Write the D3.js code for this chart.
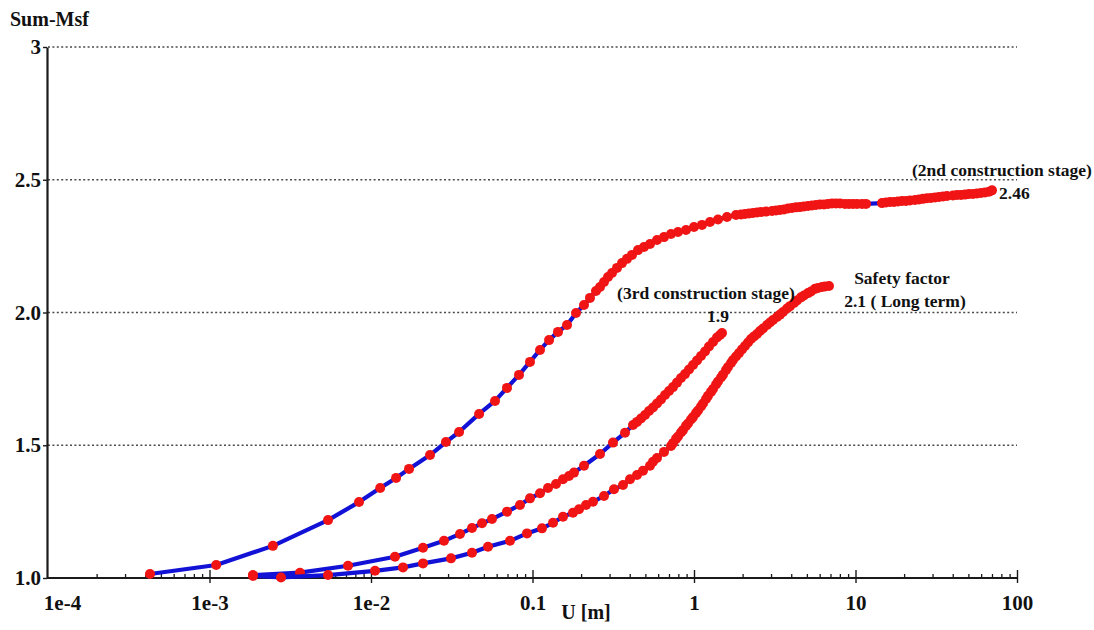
<!DOCTYPE html>
<html>
<head>
<meta charset="utf-8">
<script src="https://cdn.jsdelivr.net/npm/d3@7"></script>
<style>
  html, body { margin: 0; padding: 0; background: #ffffff; }
  svg { display: block; }
  text { font-family: "Liberation Serif", "Times New Roman", serif; font-weight: bold; fill: #111; }
</style>
</head>
<body>
<svg id="chart" width="1094" height="630"></svg>
<script>
// Axis ticks
const xTickValues = [1e-4, 1e-3, 1e-2, 0.1, 1, 10, 100];
const xTickLabels = ["1e-4", "1e-3", "1e-2", "0.1", "1", "10", "100"];
const yTickValues = [1.0, 1.5, 2.0, 2.5, 3];
const yTickLabels = ["1.0", "1.5", "2.0", "2.5", "3"];

// Sum-Msf against displacement U [m], one array per calculation phase
const stage2Points = [
  [4.28e-4,1.015],[1.10e-3,1.049],[2.47e-3,1.121],[5.42e-3,1.218],[8.43e-3,1.286],[1.14e-2,1.339],
  [1.43e-2,1.377],[1.72e-2,1.411],[2.32e-2,1.463],[2.91e-2,1.512],[3.51e-2,1.550],[4.67e-2,1.618],
  [5.86e-2,1.667],[6.95e-2,1.716],[8.25e-2,1.765],[9.65e-2,1.814],[0.1113,1.859],[0.1266,1.896],
  [0.1438,1.927],[0.1636,1.953],[0.186,1.998],[0.2084,2.028],[0.227,2.055],[0.2472,2.081],
  [0.2618,2.096],[0.2772,2.115],[0.2934,2.134],[0.3107,2.149],[0.3337,2.168],[0.3583,2.186],
  [0.3847,2.202],[0.4132,2.217],[0.4501,2.235],[0.4903,2.247],[0.5341,2.258],[0.590,2.273],
  [0.652,2.284],[0.7205,2.296],[0.796,2.303],[0.892,2.311],[1.000,2.322],[1.121,2.330],
  [1.256,2.341],[1.408,2.350],[1.601,2.360],[1.820,2.367],[1.955,2.369],[2.069,2.371],
  [2.191,2.373],[2.320,2.375],[2.456,2.377],[2.599,2.379],[2.791,2.380],[3.041,2.382],
  [3.219,2.384],[3.408,2.386],[3.608,2.388],[3.820,2.392],[4.045,2.394],[4.282,2.396],
  [4.533,2.397],[4.799,2.399],[5.081,2.401],[5.379,2.403],[5.694,2.405],[6.029,2.407],
  [6.382,2.407],[6.757,2.409],[7.154,2.411],[7.573,2.411],[8.018,2.411],[8.610,2.409],
  [9.115,2.409],[9.651,2.409],[10.22,2.409],[10.97,2.409],[11.62,2.409],[14.59,2.412],
  [15.45,2.414],[16.36,2.416],[17.32,2.416],[18.33,2.418],[19.41,2.420],[20.55,2.420],
  [21.76,2.422],[23.36,2.424],[24.73,2.426],[26.18,2.428],[27.72,2.430],[29.35,2.431],
  [31.07,2.433],[32.90,2.435],[34.83,2.437],[36.87,2.439],[40.15,2.441],[42.52,2.443],
  [45.01,2.443],[47.65,2.444],[50.45,2.446],[53.41,2.446],[56.55,2.448],[59.87,2.450],
  [63.38,2.452],[67.10,2.455],[70.03,2.46]
];

const stage3Points = [
  [1.859e-3,1.011],[3.634e-3,1.020],[7.205e-3,1.046],[1.408e-2,1.080],[2.099e-2,1.114],
  [2.832e-2,1.140],[3.557e-2,1.166],[4.221e-2,1.188],[4.868e-2,1.206],[5.614e-2,1.222],
  [6.952e-2,1.250],[8.367e-2,1.275],[9.650e-2,1.300],[0.1113,1.319],[0.1247,1.339],
  [0.1398,1.354],[0.1545,1.372],[0.1683,1.384],[0.1807,1.397],[0.2084,1.423],[0.2618,1.467],
  [0.3151,1.510],[0.3739,1.547],[0.4191,1.576],[0.4437,1.588],[0.4697,1.601],[0.4973,1.614],
  [0.5265,1.629],[0.5574,1.642],[0.5901,1.657],[0.6246,1.672],[0.6613,1.689],[0.7003,1.704],
  [0.7413,1.719],[0.7848,1.736],[0.8308,1.753],[0.8796,1.768],[0.9313,1.785],[0.9859,1.802],
  [1.0438,1.819],[1.105,1.836],[1.170,1.853],[1.238,1.872],[1.311,1.889],[1.388,1.906],
  [1.449,1.915],[1.491,1.923]
];

const longTermPoints = [
  [1.859e-3,1.008],[2.772e-3,1.002],[5.418e-3,1.011],[1.059e-2,1.027],[1.578e-2,1.040],
  [2.099e-2,1.055],[3.129e-2,1.074],[4.221e-2,1.095],[5.303e-2,1.118],[7.257e-2,1.140],
  [9.246e-2,1.168],[0.1145,1.187],[0.1340,1.208],[0.1545,1.231],[0.1781,1.246],[0.1941,1.259],
  [0.2145,1.275],[0.2369,1.287],[0.2772,1.309],[0.3196,1.334],[0.3634,1.350],[0.4016,1.372],
  [0.4437,1.388],[0.4834,1.404],[0.5341,1.423],[0.5574,1.438],[0.5901,1.452],[0.6520,1.475],
  [0.7205,1.497],[0.7413,1.508],[0.7737,1.524],[0.7961,1.533],[0.8308,1.548],[0.8548,1.557],
  [0.8923,1.573],[0.9182,1.582],[0.9582,1.597],[0.9859,1.606],[1.029,1.621],[1.059,1.631],
  [1.105,1.646],[1.137,1.657],[1.187,1.674],[1.221,1.686],[1.274,1.701],[1.311,1.712],
  [1.369,1.729],[1.408,1.740],[1.470,1.755],[1.512,1.766],[1.578,1.783],[1.624,1.795],
  [1.695,1.810],[1.744,1.821],[1.820,1.834],[1.900,1.847],[1.983,1.861],[2.069,1.874],
  [2.160,1.887],[2.254,1.900],[2.353,1.910],[2.456,1.919],[2.563,1.930],[2.675,1.940],
  [2.832,1.953],[2.955,1.962],[3.085,1.972],[3.266,1.983],[3.408,1.992],[3.557,2.002],
  [3.766,2.015],[3.931,2.024],[4.161,2.036],[4.344,2.045],[4.598,2.057],[4.799,2.064],
  [5.081,2.073],[5.303,2.079],[5.614,2.089],[5.859,2.092],[6.203,2.096],[6.474,2.098],
  [6.854,2.10]
];

const svg = d3.select("#chart");

const x = d3.scaleLog().domain([1e-4, 100]).range([48, 1017]);
const y = d3.scaleLinear().domain([1, 3]).range([578, 47]);

const ink = "#1a1a1a";

// Dotted horizontal grid lines
svg.append("g")
  .selectAll("line")
  .data(yTickValues.filter(v => v > 1))
  .join("line")
  .attr("x1", x(1e-4)).attr("x2", x(100))
  .attr("y1", d => y(d)).attr("y2", d => y(d))
  .attr("stroke", "#4a4a4a")
  .attr("stroke-width", 1.3)
  .attr("stroke-dasharray", "2,2.4");

// Minor ticks of the log axis (2..9 in every decade)
const minorTicks = x.ticks().filter(v => !xTickValues.some(t => Math.abs(t - v) / t < 1e-9));
const xMinor = svg.append("g")
  .attr("transform", `translate(0,${y(1)})`)
  .call(d3.axisBottom(x).tickValues(minorTicks).tickSize(-4).tickSizeOuter(0).tickFormat(""));
xMinor.select(".domain").remove();
xMinor.selectAll(".tick line").attr("stroke", ink).attr("stroke-width", 1.3);

// Bottom axis with decade ticks crossing the axis line
const xAxis = svg.append("g")
  .attr("transform", `translate(0,${y(1)})`)
  .call(d3.axisBottom(x)
    .tickValues(xTickValues)
    .tickFormat((d, i) => xTickLabels[i])
    .tickSize(5)
    .tickSizeOuter(0));
xAxis.select(".domain").attr("stroke", ink).attr("stroke-width", 2.2)
  .attr("d", `M${x(1e-4) - 1},0H${x(100)}`);
xAxis.selectAll(".tick line").attr("stroke", ink).attr("stroke-width", 1.4).attr("y1", -8);
xAxis.selectAll(".tick text")
  .attr("y", 17)
  .attr("font-size", 21)
  .attr("font-family", "Liberation Serif")
  .attr("font-weight", "bold")
  .attr("fill", "#111")
  .attr("dx", (d, i) => i === 0 ? 14 : 0);
xAxis.selectAll(".tick").filter(d => d === 1e-4).select("line").remove();

// Left axis
const yAxis = svg.append("g")
  .attr("transform", `translate(${x(1e-4) - 1},0)`)
  .call(d3.axisLeft(y)
    .tickValues(yTickValues)
    .tickFormat((d, i) => yTickLabels[i])
    .tickSize(4)
    .tickPadding(2)
    .tickSizeOuter(0));
yAxis.select(".domain").attr("stroke", ink).attr("stroke-width", 2.2);
yAxis.selectAll(".tick line").attr("stroke", ink).attr("stroke-width", 1.4);
yAxis.selectAll(".tick text")
  .attr("font-size", 21)
  .attr("font-family", "Liberation Serif")
  .attr("font-weight", "bold")
  .attr("fill", "#111");

// Axis titles
svg.append("text").attr("x", 10).attr("y", 26).attr("font-size", 20).text("Sum-Msf");
svg.append("text").attr("x", 586).attr("y", 619).attr("text-anchor", "middle")
  .attr("font-size", 20).text("U [m]");

// Curves: blue polyline with red step markers
const line = d3.line().x(d => x(d[0])).y(d => y(d[1]));
const series = [stage2Points, stage3Points, longTermPoints];
series.forEach(pts => {
  const g = svg.append("g");
  g.append("path")
    .datum(pts)
    .attr("d", line)
    .attr("fill", "none")
    .attr("stroke", "#1212d6")
    .attr("stroke-width", 4.2)
    .attr("stroke-linejoin", "round")
    .attr("stroke-linecap", "round");
  g.selectAll("circle")
    .data(pts)
    .join("circle")
    .attr("cx", d => x(d[0]))
    .attr("cy", d => y(d[1]))
    .attr("r", 5)
    .attr("fill", "#f01414");
});

// Annotations
const fmt1 = d3.format(".1f");
const fmt2 = d3.format(".2f");
const end2 = stage2Points[stage2Points.length - 1];
const end3 = stage3Points[stage3Points.length - 1];
const endL = longTermPoints[longTermPoints.length - 1];

svg.append("text")
  .attr("x", x(end2[0]) - 80).attr("y", y(end2[1]) - 14)
  .attr("font-size", 17.5).text("(2nd construction stage)");
svg.append("text")
  .attr("x", x(end2[0]) + 7).attr("y", y(end2[1]) + 8.5)
  .attr("font-size", 17.5).text(fmt2(end2[1]));

svg.append("text")
  .attr("x", x(end3[0]) - 16).attr("y", y(end3[1]) - 34)
  .attr("text-anchor", "middle")
  .attr("font-size", 17.5).text("(3rd construction stage)");
svg.append("text")
  .attr("x", x(end3[0]) - 4).attr("y", y(end3[1]) - 11)
  .attr("text-anchor", "middle")
  .attr("font-size", 17.5).text(fmt1(end3[1]));

svg.append("text")
  .attr("x", x(endL[0]) + 73).attr("y", y(endL[1]) - 2)
  .attr("text-anchor", "middle")
  .attr("font-size", 17.5).text("Safety factor");
svg.append("text")
  .attr("x", x(endL[0]) + 76).attr("y", y(endL[1]) + 21)
  .attr("text-anchor", "middle")
  .attr("font-size", 17.5).text(fmt1(endL[1]) + " ( Long term)");
</script>
</body>
</html>
